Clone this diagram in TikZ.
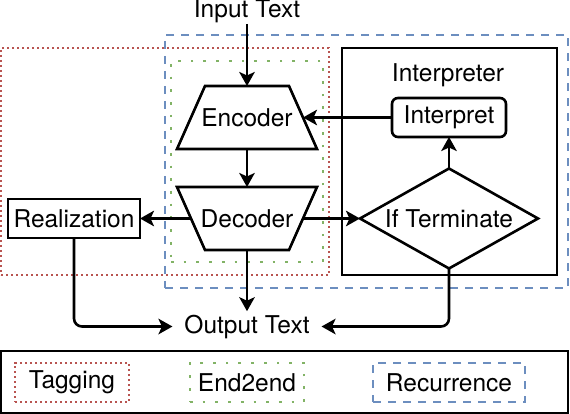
\documentclass[tikz,border=0pt]{standalone}
\usepackage{fontspec}
\setmainfont{TeX Gyre Heros}
\usetikzlibrary{shapes.geometric,arrows.meta}
\definecolor{tagred}{HTML}{B85450}
\definecolor{e2egreen}{HTML}{82B366}
\definecolor{recblue}{HTML}{6C8EBF}
\begin{document}
\begin{tikzpicture}[x=1pt,y=-1pt,
  font=\fontsize{24.5}{28}\selectfont,
  every node/.style={inner sep=0pt, outer sep=0pt},
  blk/.style={line width=2.6pt, draw=black, line join=miter},
  arr/.style={line width=2.6pt, draw=black, -{Stealth[length=14pt,width=15.5pt,inset=3.5pt]}},
  redbox/.style={draw=tagred, line width=2.3pt, dash pattern=on 2.4pt off 2.6pt},
  greenbox/.style={draw=e2egreen, line width=2.5pt, dash pattern=on 2.7pt off 10pt},
  bluebox/.style={draw=recblue, line width=2.6pt, dash pattern=on 8.3pt off 6.7pt},
  rectbox/.style={rectangle, blk, fill=white, minimum height=39pt},
  trapbox/.style={rectangle, minimum width=140pt, minimum height=63pt}
]
\useasboundingbox (0,0) rectangle (570,414);

% group frames
\node[redbox, rectangle, minimum width=328pt, minimum height=227pt] (tagframe) at (165,161.5) {};
\node[bluebox, rectangle, minimum width=403pt, minimum height=253pt] (recframe) at (366.5,161.5) {};
\node[greenbox, rectangle, minimum width=152pt, minimum height=201pt] (e2eframe) at (247,161.5) {};

% interpreter frame
\node[blk, rectangle, fill=white, minimum width=215pt, minimum height=227pt] (interpbox) at (449.5,161.5) {};
\node[anchor=base] (interptitle) at (448,82) {Interpreter};

% trapezoids (encoder / decoder)
\draw[blk, fill=white] (205,86) -- (289,86) -- (317,149) -- (177,149) -- cycle;
\draw[blk, fill=white] (177,187) -- (317,187) -- (289,250) -- (205,250) -- cycle;
\node[trapbox] (enc) at (247,117.5) {Encoder};
\node[trapbox] (dec) at (247,218.5) {Decoder};
\coordinate (encR) at (303,117.5);
\coordinate (decL) at (191,218.5);
\coordinate (decR) at (303,218.5);

% nodes
\node[anchor=base, inner ysep=0.5pt] (in) at (247,18) {Input Text};
\node[rectbox, rounded corners=6pt, minimum width=114pt] (interp) at (449,117.5) {Interpret};
\node[diamond, blk, fill=white, shape aspect=1.78, minimum width=178pt, minimum height=100pt] (term) at (449,218.5) {If Terminate};
\node[rectbox, minimum width=132pt] (real) at (74,218.5) {Realization};
\node[anchor=base, inner xsep=12pt, inner ysep=3.5pt] (out) at (247,333) {Output Text};

% connectors
\draw[arr] (in) -- (enc.north);
\draw[arr] (enc.south) -- (dec.north);
\draw[arr] (interp) -- (encR);
\draw[arr] (term.north) -- (interp.south);
\draw[arr] (decL) -- (real);
\draw[arr] (decR) -- (term);
\draw[arr] (dec.south) -- (out);
\draw[arr, rounded corners=8pt] (real.south) |- (out.west);
\draw[arr, rounded corners=8pt] (term.south) |- (out.east);

% legend
\node[blk, rectangle, minimum width=567pt, minimum height=62pt] (legend) at (284.5,382) {};
\node[redbox, rectangle, minimum width=114pt, minimum height=39pt] (ltag) at (72,382.5) {Tagging};
\node[greenbox, rectangle, minimum width=114pt, minimum height=39pt] (le2e) at (247,382.5) {End2end};
\node[bluebox, rectangle, minimum width=152pt, minimum height=39pt] (lrec) at (449,382.5) {Recurrence};
\end{tikzpicture}
\end{document}
